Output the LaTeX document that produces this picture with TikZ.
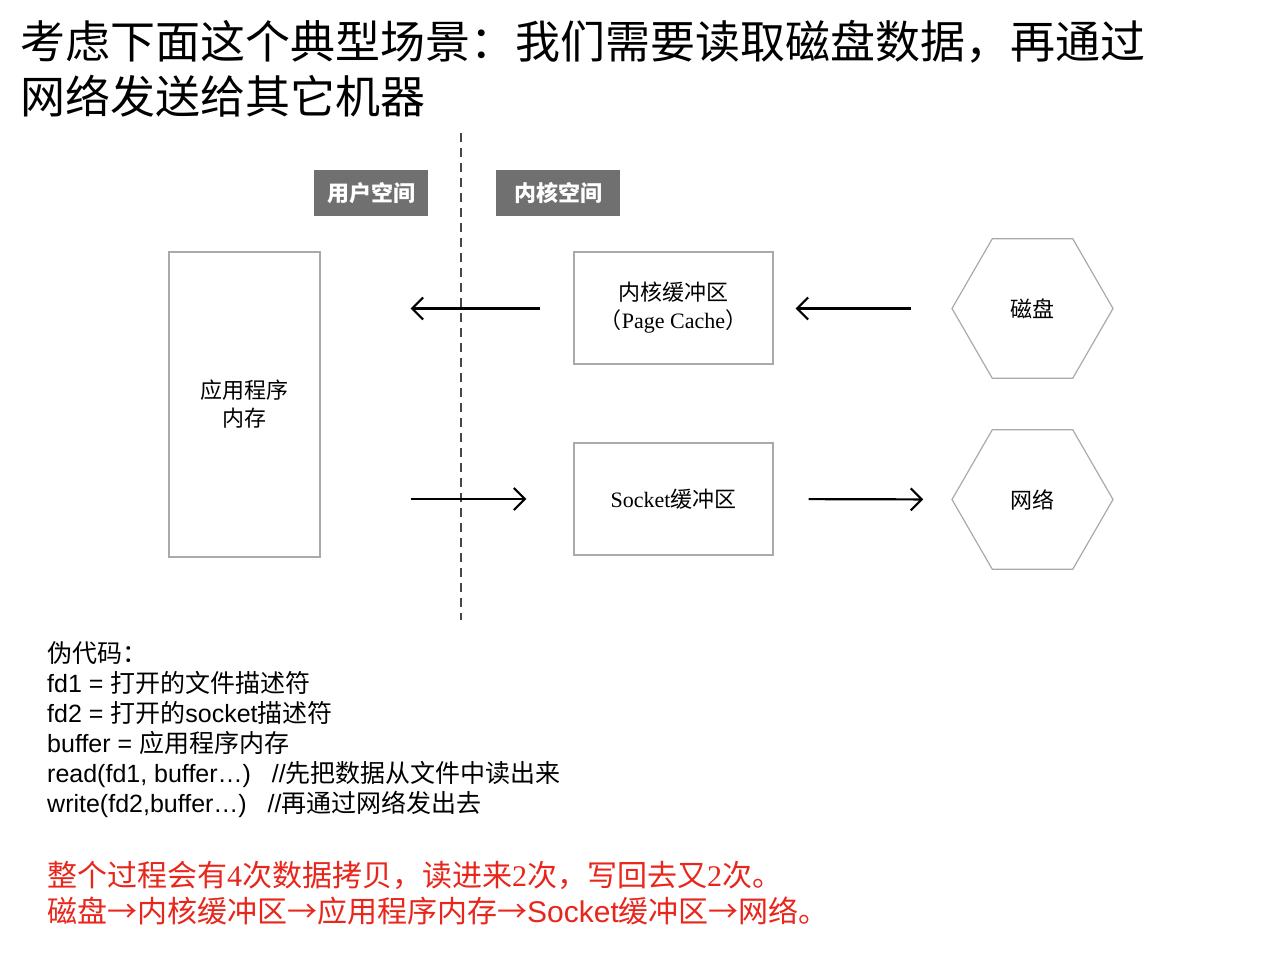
\documentclass[tikz,border=0pt]{standalone}
\usepackage{fontspec}
\setmainfont{Noto Sans CJK SC}
\newfontfamily\ar{Liberation Sans}
\newfontfamily\ser{Liberation Serif}
\usetikzlibrary{arrows.meta,shapes.geometric}
\definecolor{boxgray}{RGB}{170,170,170}
\definecolor{labgray}{RGB}{112,112,112}
\definecolor{redtxt}{RGB}{232,38,28}
\definecolor{dashgray}{RGB}{70,70,70}
\begin{document}
\begin{tikzpicture}[x=1pt,y=-1pt,
  box/.style={draw=boxgray,line width=1.2pt,fill=white,inner sep=0,align=center,font=\fontsize{22}{28}\selectfont},
  hex/.style={draw=boxgray,line width=1.2pt,regular polygon,regular polygon sides=6,minimum size=161pt,inner sep=0,font=\fontsize{22}{28}\selectfont},
  lab/.style={fill=labgray,text=white,inner sep=0,minimum height=46pt,font=\fontsize{22}{26}\selectfont\bfseries},
  arr/.style={-{Straight Barb[length=11pt,width=22pt,line width=2.2pt]},line width=2.2pt},
  code/.style={anchor=base west,inner sep=0,font=\fontsize{25}{30}\selectfont},
  redline/.style={anchor=base west,inner sep=0,text=redtxt,font=\fontsize{30}{34}\selectfont},
  title/.style={anchor=west,inner sep=0,font=\fontsize{45}{52}\selectfont},
]
\path[fill=white,use as bounding box] (0,0) rectangle (1272,953);

% title
\node[title] (t1) at (20,42) {考虑下面这个典型场景：我们需要读取磁盘数据，再通过};
\node[title] (t2) at (20,96) {网络发送给其它机器};

% dashed divider
\coordinate (d1) at (461,133);
\coordinate (d2) at (461,620);
\draw[dashgray,line width=2pt,dash pattern=on 9pt off 6pt] (d1) -- (d2);

% space labels
\node[lab,minimum width=114pt] (user) at (371,193) {用户空间};
\node[lab,minimum width=124pt] (kern) at (558,193) {内核空间};

% boxes
\node[box,minimum width=151pt,minimum height=305pt] (app) at (244.5,404.5) {应用程序\\内存};
\node[box,minimum width=199pt,minimum height=112pt] (pc) at (673.5,308) {内核缓冲区\\（{\ser Page Cache}）};
\node[box,minimum width=199pt,minimum height=112pt] (sock) at (673.5,499) {{\ser Socket}缓冲区};
\node[hex] (disk) at (1032.5,308.5) {磁盘};
\node[hex] (net) at (1032.5,499.5) {网络};

% arrows
\draw[arr,shorten <=40pt,shorten >=22pt] (disk.west) -- (pc.east |- disk.west);
\draw[arr,shorten <=33pt,shorten >=90pt] (pc.west |- disk.west) -- (app.east |- disk.west);
\draw[arr,shorten <=90pt,shorten >=47pt] (app.east |- sock.west) -- (sock.west);
\draw[arr,shorten <=35pt,shorten >=28pt] (sock.east) -- (net.west);

% pseudo code
\node[code] (c0) at (47,662) {伪代码：};
\node[code] (c1) at (47,692) {{\ar fd1 = }打开的文件描述符};
\node[code] (c2) at (47,722) {{\ar fd2 = }打开的{\ar socket}描述符};
\node[code] (c3) at (47,752) {{\ar buffer = }应用程序内存};
\node[code] (c4) at (47,782) {{\ar read(fd1, buffer…)\ \ \ //}先把数据从文件中读出来};
\node[code] (c5) at (47,812) {{\ar write(fd2,buffer…)\ \ \ //}再通过网络发出去};

% red summary
\node[redline] (r1) at (47,886) {整个过程会有{\ser 4}次数据拷贝，读进来{\ser 2}次，写回去又{\ser 2}次。};
\node[redline] (r2) at (47,922) {磁盘→内核缓冲区→应用程序内存→{\ar Socket}缓冲区→网络。};
\end{tikzpicture}
\end{document}
